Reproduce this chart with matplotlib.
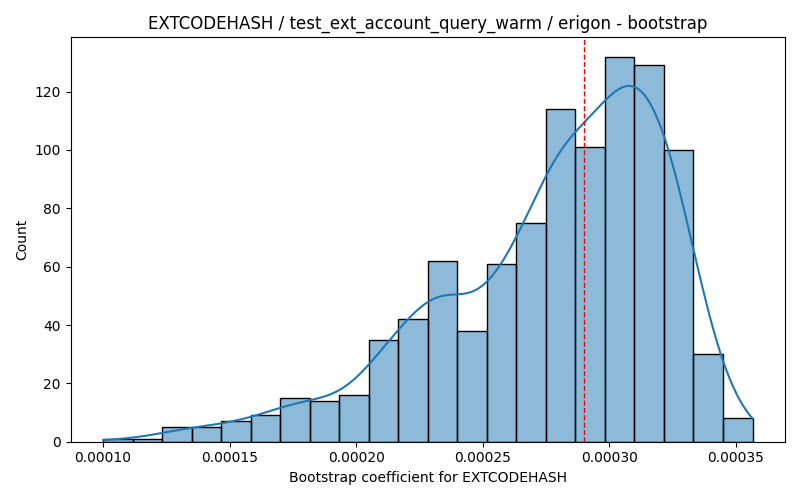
import numpy as np
import matplotlib
matplotlib.use("Agg")
import matplotlib.pyplot as plt
import seaborn as sns

# Histogram
x_min = 0.00010
x_max = 0.0003567
n_bins = 22
counts = [1, 1, 5, 5, 7, 9, 15, 14, 16, 35, 42, 62, 38, 61, 75, 114, 101, 132, 129, 100, 30, 8]
ref_value = 0.00029

title = "EXTCODEHASH / test_ext_account_query_warm / erigon - bootstrap"
xlabel = "Bootstrap coefficient for EXTCODEHASH"
ylabel = "Count"

edges = np.linspace(x_min, x_max, n_bins + 1)
width = edges[1] - edges[0]
# reconstruct samples: spread each bin's count evenly inside the bin
samples = np.concatenate([
    edges[i] + width * (np.arange(c) + 0.5) / c for i, c in enumerate(counts)
])

fig, ax = plt.subplots(figsize=(8, 5), dpi=100)
sns.histplot(x=samples, bins=edges, kde=False, ax=ax,
             edgecolor="black", color="C0", alpha=0.5)

# Gaussian KDE (Scott's rule), scaled to counts, over the data range
n = samples.size
bw_adjust = 0.93
bw = bw_adjust * samples.std(ddof=1) * n ** (-1 / 5)
grid = np.linspace(x_min, x_max, 200)
dens = np.exp(-0.5 * ((grid[:, None] - samples[None, :]) / bw) ** 2).sum(axis=1)
dens /= n * bw * np.sqrt(2 * np.pi)
ax.plot(grid, dens * n * width, color="C0", linewidth=1.5)

ax.axvline(ref_value, color="red", linestyle="--", linewidth=1)
ax.set_title(title)
ax.set_xlabel(xlabel)
ax.set_ylabel(ylabel)
fig.tight_layout()
fig.savefig("out.png")
